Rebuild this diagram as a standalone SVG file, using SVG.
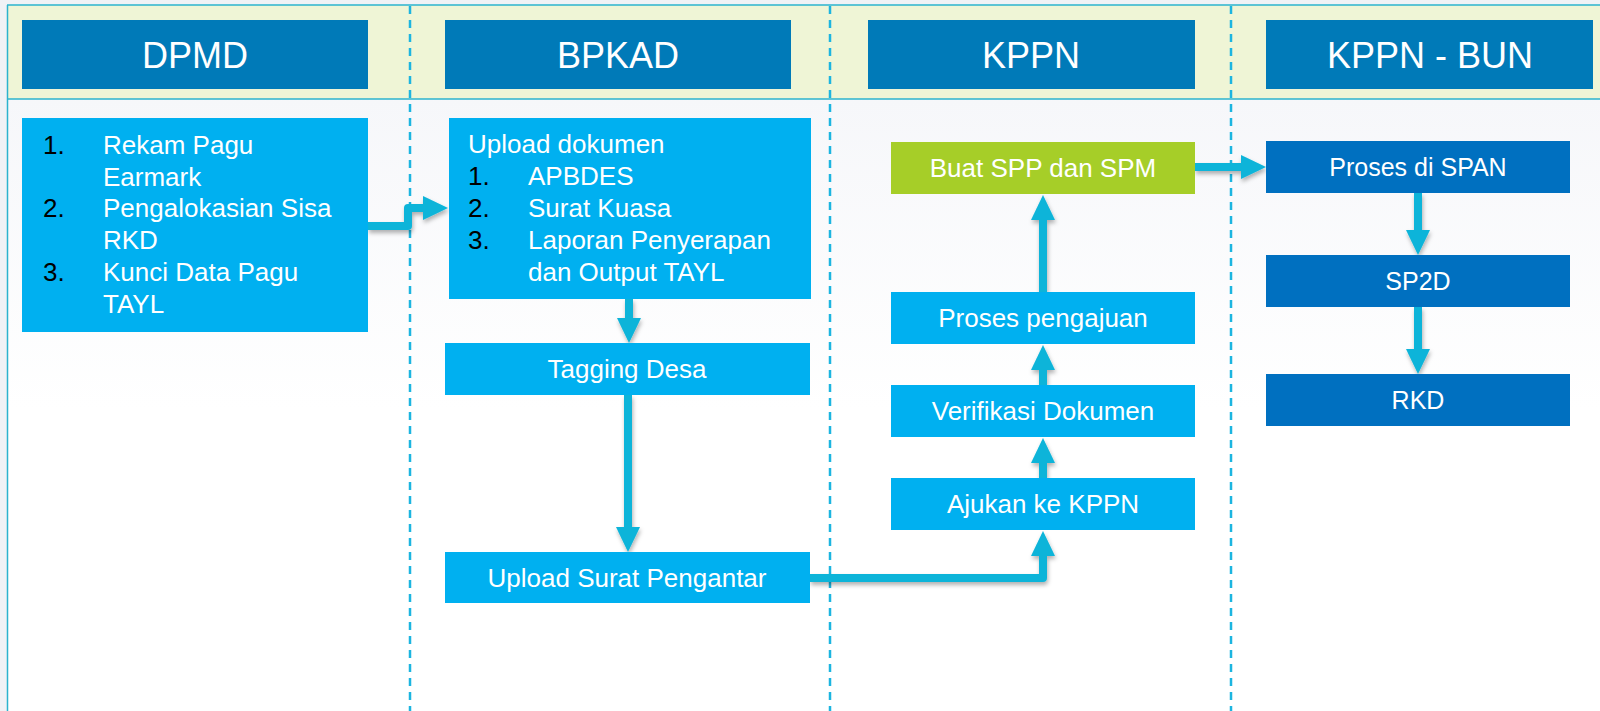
<svg xmlns="http://www.w3.org/2000/svg" width="1600" height="711" viewBox="0 0 1600 711">
  <style>
    .hdr { fill: #007AB8; }
    .box { fill: #00B0F0; }
    .dark { fill: #0070C0; }
    .green { fill: #A6CE28; }
    .htxt { font-family: "Liberation Sans", Arial, sans-serif; font-size: 36px; fill: #FFFFFF; text-anchor: middle; }
    .btxt { font-family: "Liberation Sans", Arial, sans-serif; font-size: 26px; fill: #FFFFFF; text-anchor: middle; }
    .ltxt { font-family: "Liberation Sans", Arial, sans-serif; font-size: 26px; fill: #FFFFFF; }
    .num { font-family: "Liberation Sans", Arial, sans-serif; font-size: 26px; fill: #000000; }
    .lane { stroke: #1CB5E0; stroke-width: 2.5; stroke-dasharray: 8 6; fill: none; }
    .conn { stroke: #0AB4D9; stroke-width: 8; fill: none; stroke-linejoin: round; }
  </style>
  <defs>
    <linearGradient id="bodyBg" x1="0" y1="0" x2="0" y2="1">
      <stop offset="0" stop-color="#F6F7FA"/>
      <stop offset="0.5" stop-color="#FFFFFF"/>
      <stop offset="1" stop-color="#FFFFFF"/>
    </linearGradient>
    <marker id="arrow" markerUnits="userSpaceOnUse" markerWidth="25" markerHeight="24" viewBox="0 0 25 24" refX="1" refY="12" orient="auto">
      <path d="M0,0 L25,12 L0,24 Z" fill="#0AB4D9"/>
    </marker>
    <filter id="shadow" x="-20%" y="-20%" width="140%" height="140%">
      <feDropShadow dx="1" dy="3" stdDeviation="2" flood-color="#000000" flood-opacity="0.3"/>
    </filter>
  </defs>

  <!-- background -->
  <rect x="0" y="0" width="1600" height="711" fill="#F0F2F6"/>
  <rect x="7" y="99" width="1600" height="620" fill="url(#bodyBg)"/>
  <rect x="7" y="5" width="1600" height="94" fill="#EFF5D6"/>
  <line x1="7" y1="5" x2="1600" y2="5" stroke="#2BB3CE" stroke-width="1.5"/>
  <line x1="7" y1="99" x2="1600" y2="99" stroke="#2BB3CE" stroke-width="1.5"/>
  <line x1="7.5" y1="5" x2="7.5" y2="711" stroke="#2BB3CE" stroke-width="1.5"/>

  <!-- lane separators -->
  <g id="lanes">
    <line class="lane" x1="410" y1="6" x2="410" y2="711"/>
    <line class="lane" x1="830" y1="6" x2="830" y2="711"/>
    <line class="lane" x1="1231" y1="6" x2="1231" y2="711"/>
  </g>

  <!-- headers -->
  <g id="hdr-dpmd"><rect class="hdr" x="22" y="20" width="346" height="69"/><text class="htxt" x="195" y="68">DPMD</text></g>
  <g id="hdr-bpkad"><rect class="hdr" x="445" y="20" width="346" height="69"/><text class="htxt" x="618" y="68">BPKAD</text></g>
  <g id="hdr-kppn"><rect class="hdr" x="868" y="20" width="327" height="69"/><text class="htxt" x="1031" y="68">KPPN</text></g>
  <g id="hdr-kppnbun"><rect class="hdr" x="1266" y="20" width="327" height="69"/><text class="htxt" x="1430" y="68">KPPN - BUN</text></g>

  <!-- connectors -->
  <g id="connectors" filter="url(#shadow)">
    <path class="conn" d="M368,226 H408 V208 H424" marker-end="url(#arrow)"/>
    <path class="conn" d="M629,299 V319" marker-end="url(#arrow)"/>
    <path class="conn" d="M628,395 V528" marker-end="url(#arrow)"/>
    <path class="conn" d="M810,578 H1043 V555" marker-end="url(#arrow)"/>
    <path class="conn" d="M1043,478 V462" marker-end="url(#arrow)"/>
    <path class="conn" d="M1043,385 V369" marker-end="url(#arrow)"/>
    <path class="conn" d="M1043,292 V219" marker-end="url(#arrow)"/>
    <path class="conn" d="M1195,167 H1242" marker-end="url(#arrow)"/>
    <path class="conn" d="M1418,193 V231" marker-end="url(#arrow)"/>
    <path class="conn" d="M1418,307 V350" marker-end="url(#arrow)"/>
  </g>

  <!-- DPMD -->
  <g id="dpmd-tasks">
    <rect class="box" x="22" y="118" width="346" height="214"/>
    <text class="num" x="43" y="154">1.</text>
    <text class="ltxt" x="103" y="154">Rekam Pagu</text>
    <text class="ltxt" x="103" y="186">Earmark</text>
    <text class="num" x="43" y="217">2.</text>
    <text class="ltxt" x="103" y="217">Pengalokasian Sisa</text>
    <text class="ltxt" x="103" y="249">RKD</text>
    <text class="num" x="43" y="281">3.</text>
    <text class="ltxt" x="103" y="281">Kunci Data Pagu</text>
    <text class="ltxt" x="103" y="313">TAYL</text>
  </g>

  <!-- BPKAD -->
  <g id="bpkad-upload">
    <rect class="box" x="449" y="118" width="362" height="181"/>
    <text class="ltxt" x="468" y="153">Upload dokumen</text>
    <text class="num" x="468" y="185">1.</text>
    <text class="ltxt" x="528" y="185">APBDES</text>
    <text class="num" x="468" y="217">2.</text>
    <text class="ltxt" x="528" y="217">Surat Kuasa</text>
    <text class="num" x="468" y="249">3.</text>
    <text class="ltxt" x="528" y="249">Laporan Penyerapan</text>
    <text class="ltxt" x="528" y="281">dan Output TAYL</text>
  </g>
  <g id="bpkad-tagging">
    <rect class="box" x="445" y="343" width="365" height="52"/>
    <text class="btxt" x="627" y="378">Tagging Desa</text>
  </g>
  <g id="bpkad-surat">
    <rect class="box" x="445" y="552" width="365" height="51"/>
    <text class="btxt" x="627" y="587">Upload Surat Pengantar</text>
  </g>

  <!-- KPPN -->
  <g id="kppn-buat">
    <rect class="green" x="891" y="142" width="304" height="52"/>
    <text class="btxt" x="1043" y="177">Buat SPP dan SPM</text>
  </g>
  <g id="kppn-proses">
    <rect class="box" x="891" y="292" width="304" height="52"/>
    <text class="btxt" x="1043" y="327">Proses pengajuan</text>
  </g>
  <g id="kppn-verifikasi">
    <rect class="box" x="891" y="385" width="304" height="52"/>
    <text class="btxt" x="1043" y="420">Verifikasi Dokumen</text>
  </g>
  <g id="kppn-ajukan">
    <rect class="box" x="891" y="478" width="304" height="52"/>
    <text class="btxt" x="1043" y="513">Ajukan ke KPPN</text>
  </g>

  <!-- KPPN - BUN -->
  <g id="bun-span">
    <rect class="dark" x="1266" y="141" width="304" height="52"/>
    <text class="btxt" x="1418" y="176" style="font-size:25px">Proses di SPAN</text>
  </g>
  <g id="bun-sp2d">
    <rect class="dark" x="1266" y="255" width="304" height="52"/>
    <text class="btxt" x="1418" y="290" style="font-size:25px">SP2D</text>
  </g>
  <g id="bun-rkd">
    <rect class="dark" x="1266" y="374" width="304" height="52"/>
    <text class="btxt" x="1418" y="409" style="font-size:25px">RKD</text>
  </g>
</svg>
